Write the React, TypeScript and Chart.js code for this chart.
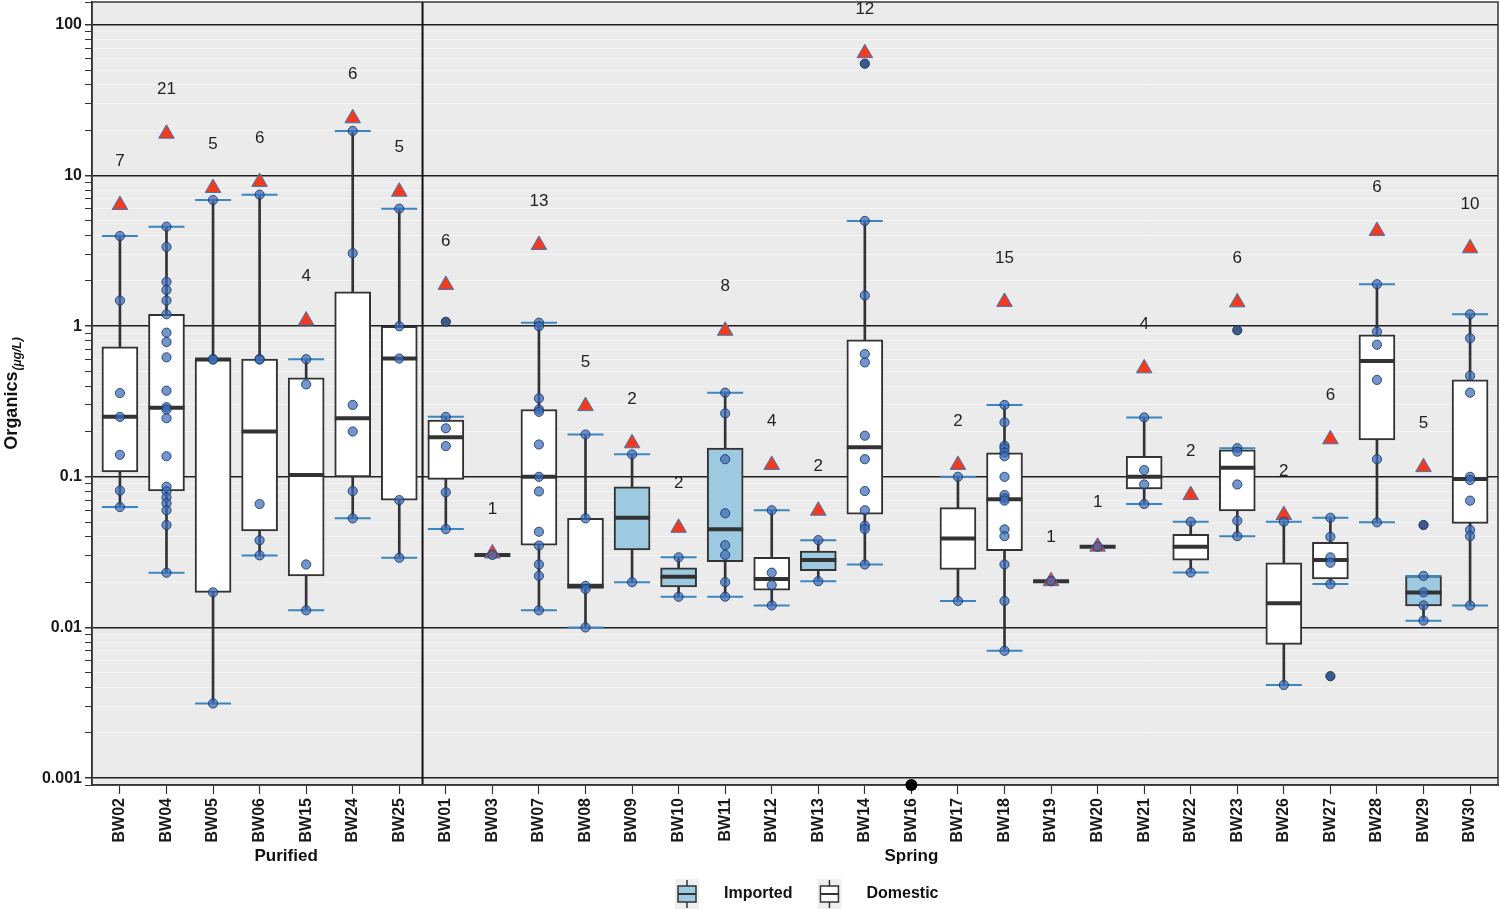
import React, { useEffect, useRef } from 'react';
import { Chart, registerables } from 'chart.js';

Chart.register(...registerables);

const FONT = '"Liberation Sans", Arial, Helvetica, sans-serif';

// ---------- data ----------
const categories = ['BW02', 'BW04', 'BW05', 'BW06', 'BW15', 'BW24', 'BW25', 'BW01', 'BW03', 'BW07', 'BW08', 'BW09', 'BW10', 'BW11', 'BW12', 'BW13', 'BW14', 'BW16', 'BW17', 'BW18', 'BW19', 'BW20', 'BW21', 'BW22', 'BW23', 'BW26', 'BW27', 'BW28', 'BW29', 'BW30'];

const waterSource = ['Domestic', 'Domestic', 'Domestic', 'Domestic', 'Domestic', 'Domestic', 'Domestic', 'Domestic', 'Domestic', 'Domestic', 'Domestic', 'Imported', 'Imported', 'Imported', 'Domestic', 'Imported', 'Domestic', null, 'Domestic', 'Domestic', 'Domestic', 'Domestic', 'Domestic', 'Domestic', 'Domestic', 'Domestic', 'Domestic', 'Domestic', 'Imported', 'Domestic'];

const whiskerLow = [0.063, 0.0231, 0.00313, 0.0301, 0.013, 0.053, 0.029, 0.045, null, 0.013, 0.01, 0.02, 0.016, 0.016, 0.014, 0.0203, 0.0262, null, 0.015, 0.007, null, null, 0.066, 0.0232, 0.0404, 0.00415, 0.0194, 0.0499, 0.0111, 0.014];
const q1 = [0.108, 0.0805, 0.0171, 0.0437, 0.022, 0.1, 0.0701, 0.0962, null, 0.0352, 0.0182, 0.0327, 0.0186, 0.0273, 0.0177, 0.0238, 0.0566, null, 0.0243, 0.0323, null, null, 0.083, 0.028, 0.0593, 0.00773, 0.021, 0.1755, 0.0139, 0.0491];
const median = [0.251, 0.288, 0.6, 0.2, 0.103, 0.245, 0.61, 0.183, 0.0303, 0.1, 0.0189, 0.0535, 0.0217, 0.0448, 0.021, 0.028, 0.157, null, 0.039, 0.071, 0.0203, 0.0344, 0.1, 0.0344, 0.115, 0.0145, 0.028, 0.587, 0.0171, 0.0967];
const q3 = [0.731, 1.2, 0.61, 0.606, 0.455, 1.69, 1.0, 0.238, null, 0.28, 0.053, 0.086, 0.0249, 0.155, 0.0292, 0.0322, 0.813, null, 0.0624, 0.1445, null, null, 0.137, 0.0415, 0.151, 0.0269, 0.0367, 0.875, 0.022, 0.44];
const whiskerHigh = [3.97, 4.58, 6.88, 7.47, 0.604, 19.8, 6.03, 0.251, null, 1.055, 0.191, 0.141, 0.0292, 0.362, 0.06, 0.038, 5.0, null, 0.1, 0.3, null, null, 0.248, 0.0503, 0.155, 0.0503, 0.0535, 1.9, 0.022, 1.2];

const triangleValues = [6.38, 18.97, 8.27, 9.07, 1.09, 24.0, 7.82, 1.88, 0.031, 3.46, 0.295, 0.167, 0.0459, 0.933, 0.12, 0.0596, 64.9, null, 0.12, 1.45, 0.0203, 0.0344, 0.525, 0.0757, 1.44, 0.0558, 0.1775, 4.29, 0.116, 3.29];
const sampleCounts = [7, 21, 5, 6, 4, 6, 5, 6, 1, 13, 5, 2, 2, 8, 4, 2, 12, null, 2, 15, 1, 1, 4, 2, 6, 2, 6, 6, 5, 10];

const sampleValues: number[][] = [
  [3.97, 1.48, 0.36, 0.25, 0.14, 0.081, 0.063],
  [4.58, 3.36, 1.97, 1.74, 1.48, 1.2, 0.906, 0.785, 0.621, 0.373, 0.29, 0.28, 0.245, 0.137, 0.086, 0.08, 0.073, 0.0667, 0.06, 0.0479, 0.0231],
  [6.88, 0.606, 0.6, 0.0171, 0.00313],
  [7.47, 0.606, 0.6, 0.066, 0.0379, 0.0301],
  [0.604, 0.411, 0.0262, 0.013],
  [19.8, 3.05, 0.3, 0.2, 0.0805, 0.053],
  [6.03, 1.0, 0.61, 0.0701, 0.029],
  [0.25, 0.21, 0.16, 0.079, 0.045],
  [0.0303],
  [1.055, 1.0, 0.332, 0.28, 0.27, 0.164, 0.1, 0.08, 0.0432, 0.035, 0.0262, 0.022, 0.013],
  [0.191, 0.053, 0.0189, 0.018, 0.01],
  [0.141, 0.02],
  [0.0292, 0.016],
  [0.362, 0.264, 0.131, 0.0573, 0.0352, 0.0303, 0.02, 0.016],
  [0.06, 0.0231, 0.0191, 0.014],
  [0.038, 0.0203],
  [5.0, 1.6, 0.653, 0.575, 0.1875, 0.131, 0.0805, 0.06, 0.0474, 0.045, 0.0262],
  [],
  [0.1, 0.015],
  [0.3, 0.23, 0.161, 0.155, 0.145, 0.137, 0.1, 0.0757, 0.072, 0.0695, 0.0448, 0.0404, 0.0262, 0.015, 0.007],
  [0.0203],
  [0.0344],
  [0.248, 0.111, 0.089, 0.066],
  [0.0503, 0.0232],
  [0.155, 0.147, 0.089, 0.0511, 0.0404],
  [0.0503, 0.00415],
  [0.0535, 0.04, 0.0292, 0.0269, 0.0194],
  [1.9, 0.92, 0.754, 0.44, 0.131, 0.0499],
  [0.022, 0.0171, 0.014, 0.0111],
  [1.2, 0.832, 0.469, 0.362, 0.1, 0.0953, 0.0695, 0.0444, 0.0404, 0.014],
];

const outlierSites = ['BW01', 'BW14', 'BW23', 'BW27', 'BW29'];
const outlierValues = [1.07, 55.3, 0.94, 0.00475, 0.0479];

const belowRangeSites = ['BW16'];
const belowRangeValues = [0.0009];

const yTickLabels = ['0.001', '0.01', '0.1', '1', '10', '100'];
const groupNames = ['Purified', 'Spring'];
const groupSizes = [7, 23];
const groupLabelAt = [3.57, 17];
const legendLabels = ['Imported', 'Domestic'];

// ---------- styles ----------
const Y_MIN = 0.0009;
const Y_MAX = 142;
const PANEL_BG = '#ebebeb';
const BOX_LINE = '#333333';
const IMPORTED_FILL = '#9ecae1';
const DOMESTIC_FILL = '#ffffff';
const CAP_COLOR = '#3a86bf';
const POINT_FILL = 'rgba(58,108,185,0.72)';
const POINT_BORDER = 'rgba(25,55,100,0.85)';
const OUTLIER_FILL = '#3b5b8c';
const TRI_FILL = '#f23b1e';
const TRI_BORDER = '#3c78b5';

function drawKey(ctx: CanvasRenderingContext2D, cx: number, cy: number, fill: string) {
  ctx.save();
  ctx.fillStyle = '#eeeeee';
  ctx.fillRect(cx - 12, cy - 15, 24, 30);
  ctx.strokeStyle = BOX_LINE;
  ctx.lineWidth = 1.5;
  ctx.beginPath();
  ctx.moveTo(cx, cy - 14);
  ctx.lineTo(cx, cy + 14);
  ctx.stroke();
  ctx.fillStyle = fill;
  ctx.fillRect(cx - 9, cy - 8, 18, 16);
  ctx.strokeRect(cx - 9, cy - 8, 18, 16);
  ctx.lineWidth = 2;
  ctx.beginPath();
  ctx.moveTo(cx - 9, cy);
  ctx.lineTo(cx + 9, cy);
  ctx.stroke();
  ctx.restore();
}

const decorPlugin = {
  id: 'decor',
  beforeDraw(chart: any) {
    const { ctx, chartArea: a } = chart;
    ctx.save();
    ctx.fillStyle = PANEL_BG;
    ctx.fillRect(a.left, a.top, a.right - a.left, a.bottom - a.top);
    ctx.restore();
  },
  beforeDatasetsDraw(chart: any) {
    const { ctx, chartArea: a, scales } = chart;
    const x = scales.x;
    ctx.save();
    ctx.strokeStyle = '#111';
    ctx.lineWidth = 2;
    const sx = x.getPixelForValue(groupSizes[0] - 0.5);
    ctx.beginPath();
    ctx.moveTo(sx, a.top);
    ctx.lineTo(sx, a.bottom);
    ctx.stroke();
    ctx.strokeStyle = '#333';
    ctx.lineWidth = 1.5;
    ctx.strokeRect(a.left, a.top, a.right - a.left, a.bottom - a.top);
    ctx.restore();
  },
  afterDatasetsDraw(chart: any) {
    const { ctx, scales } = chart;
    const x = scales.x;
    const y = scales.y;
    ctx.save();
    ctx.fillStyle = '#222';
    ctx.font = `17px ${FONT}`;
    ctx.textAlign = 'center';
    ctx.textBaseline = 'middle';
    sampleCounts.forEach((c, i) => {
      const t = triangleValues[i];
      if (c == null || t == null) return;
      ctx.fillText(String(c), x.getPixelForValue(i), y.getPixelForValue(t) - 44);
    });
    ctx.restore();
  },
  afterDraw(chart: any) {
    const { ctx, chartArea: a, scales } = chart;
    const x = scales.x;
    ctx.save();
    // group labels
    ctx.fillStyle = '#111';
    ctx.font = `bold 17px ${FONT}`;
    ctx.textAlign = 'center';
    ctx.textBaseline = 'middle';
    groupNames.forEach((g, i) => {
      ctx.fillText(g, x.getPixelForValue(groupLabelAt[i]), 856);
    });
    // y title with subscript
    const main = 'Organics';
    const sub = '(μg/L)';
    ctx.font = `bold 18px ${FONT}`;
    const w1 = ctx.measureText(main).width;
    ctx.font = `italic bold 12px ${FONT}`;
    const w2 = ctx.measureText(sub).width;
    const total = w1 + 1 + w2;
    const cy = (a.top + a.bottom) / 2;
    ctx.translate(17, cy + total / 2);
    ctx.rotate(-Math.PI / 2);
    ctx.textAlign = 'left';
    ctx.textBaseline = 'alphabetic';
    ctx.font = `bold 18px ${FONT}`;
    ctx.fillText(main, 0, 0);
    ctx.font = `italic bold 12px ${FONT}`;
    ctx.fillText(sub, w1 + 1, 4);
    ctx.restore();

    // legend
    ctx.save();
    const ly = 894;
    let lx = 675;
    const fills = [IMPORTED_FILL, DOMESTIC_FILL];
    ctx.font = `bold 16px ${FONT}`;
    ctx.fillStyle = '#111';
    ctx.textAlign = 'left';
    ctx.textBaseline = 'middle';
    legendLabels.forEach((lab, i) => {
      drawKey(ctx, lx + 12, ly, fills[i]);
      ctx.fillStyle = '#111';
      ctx.fillText(lab, lx + 49, ly);
      lx += 49 + ctx.measureText(lab).width + 25;
    });
    ctx.restore();
  },
};

export default function App() {
  const ref = useRef<HTMLCanvasElement>(null);

  useEffect(() => {
    document.body.style.margin = '0';
    const canvas = ref.current;
    if (!canvas) return;

    const idx = (site: string) => categories.indexOf(site);
    const boxFor = (kind: string) =>
      categories
        .map((_, i) => (waterSource[i] === kind && q1[i] != null && q3[i] != null ? { x: i, y: [q1[i], q3[i]] } : null))
        .filter(Boolean);
    const whiskers = categories
      .map((_, i) => (whiskerLow[i] != null && whiskerHigh[i] != null ? { x: i, y: [whiskerLow[i], whiskerHigh[i]] } : null))
      .filter(Boolean);
    const medians = categories
      .map((_, i) => (median[i] != null ? { x: i, y: median[i] } : null))
      .filter(Boolean);
    const caps: any[] = [];
    categories.forEach((_, i) => {
      if (whiskerLow[i] != null) caps.push({ x: i, y: whiskerLow[i] });
      if (whiskerHigh[i] != null) caps.push({ x: i, y: whiskerHigh[i] });
    });
    const triangles = categories
      .map((_, i) => (triangleValues[i] != null ? { x: i, y: triangleValues[i] } : null))
      .filter(Boolean);
    const points: any[] = [];
    sampleValues.forEach((arr, i) => arr.forEach((v) => points.push({ x: i, y: v })));
    const outliers = outlierSites.map((s, k) => ({ x: idx(s), y: outlierValues[k] }));
    const below = belowRangeSites.map((s, k) => ({ x: idx(s), y: belowRangeValues[k] }));

    const barCommon = { type: 'bar' as const, grouped: false, borderSkipped: false as any };

    const chart = new Chart(canvas, {
      type: 'bar',
      data: {
        datasets: [
          { ...barCommon, label: 'whisker', data: whiskers as any, barThickness: 2, backgroundColor: BOX_LINE, borderWidth: 0, order: 10 },
          { ...barCommon, label: legendLabels[0], data: boxFor('Imported') as any, barThickness: 36, backgroundColor: IMPORTED_FILL, borderColor: BOX_LINE, borderWidth: 2, order: 9 },
          { ...barCommon, label: legendLabels[1], data: boxFor('Domestic') as any, barThickness: 36, backgroundColor: DOMESTIC_FILL, borderColor: BOX_LINE, borderWidth: 2, order: 9 },
          { type: 'line', label: 'median', data: medians as any, showLine: false, pointStyle: 'line', pointRadius: 18, pointBorderWidth: 4, pointBorderColor: BOX_LINE, borderColor: BOX_LINE, order: 8 },
          { type: 'line', label: 'caps', data: caps, showLine: false, pointStyle: 'line', pointRadius: 18, pointBorderWidth: 2, pointBorderColor: CAP_COLOR, borderColor: CAP_COLOR, order: 7 },
          { type: 'line', label: 'triangles', data: triangles as any, showLine: false, pointStyle: 'triangle', pointRadius: 9, pointBackgroundColor: TRI_FILL, pointBorderColor: TRI_BORDER, pointBorderWidth: 1, order: 6 },
          { type: 'line', label: 'samples', data: points, showLine: false, pointStyle: 'circle', pointRadius: 4.6, pointBackgroundColor: POINT_FILL, pointBorderColor: POINT_BORDER, pointBorderWidth: 1, order: 5 },
          { type: 'line', label: 'outliers', data: outliers, showLine: false, pointStyle: 'circle', pointRadius: 4.6, pointBackgroundColor: OUTLIER_FILL, pointBorderColor: '#1f3557', pointBorderWidth: 1, order: 4 },
          { type: 'line', label: 'below', data: below, showLine: false, pointStyle: 'circle', pointRadius: 6, pointBackgroundColor: '#000', pointBorderColor: '#000', pointBorderWidth: 0, clip: false as any, order: 3 },
        ] as any,
      },
      options: {
        responsive: false,
        animation: false,
        events: [],
        layout: { autoPadding: false, padding: { left: 0, top: 2, right: 2, bottom: 0 } },
        plugins: { legend: { display: false }, tooltip: { enabled: false } },
        scales: {
          x: {
            type: 'linear',
            offset: false,
            min: -0.6,
            max: categories.length - 1 + 0.6,
            afterBuildTicks: (scale: any) => {
              scale.ticks = categories.map((_, i) => ({ value: i }));
            },
            afterFit: (scale: any) => {
              scale.height = 124;
              scale.paddingLeft = 0;
              scale.paddingRight = 0;
              scale.paddingTop = 0;
              scale.paddingBottom = 0;
            },
            grid: { display: true, offset: false, drawOnChartArea: false, drawTicks: true, tickLength: 9, color: '#333', tickColor: '#333', tickWidth: 1.2 } as any,
            border: { display: true, color: '#333', width: 1.5 },
            ticks: {
              autoSkip: false,
              maxRotation: 90,
              minRotation: 90,
              padding: 4,
              color: '#1a1a1a',
              font: { family: FONT, size: 16, weight: 'bold' },
              callback: (v: any) => categories[Math.round(Number(v))] ?? '',
            },
          },
          y: {
            type: 'logarithmic',
            min: Y_MIN,
            max: Y_MAX,
            afterBuildTicks: (scale: any) => {
              const t: any[] = [{ value: Y_MIN, major: false }];
              for (let e = -3; e <= 2; e++) {
                for (let m = 1; m <= 9; m++) {
                  const v = Number((m * Math.pow(10, e)).toPrecision(6));
                  if (v > Y_MIN && v < Y_MAX) t.push({ value: v, major: m === 1 });
                }
              }
              t.push({ value: Y_MAX, major: false });
              scale.ticks = t;
            },
            afterFit: (scale: any) => {
              scale.width = 92;
              scale.paddingTop = 0;
              scale.paddingBottom = 0;
              scale.paddingLeft = 0;
              scale.paddingRight = 0;
            },
            grid: {
              color: (c: any) => (c.tick && c.tick.major ? '#1f1f1f' : '#f4f4f4'),
              lineWidth: (c: any) => (c.tick && c.tick.major ? 1.5 : 1),
              tickColor: '#333',
              tickLength: 7,
              drawTicks: true,
            } as any,
            border: { display: true, color: '#333', width: 1.5 },
            ticks: {
              autoSkip: false,
              padding: 3,
              color: '#1a1a1a',
              font: { family: FONT, size: 16, weight: 'bold' },
              callback: (v: any, i: number, ticks: any[]) => {
                if (!ticks[i] || !ticks[i].major) return '';
                const k = Math.round(Math.log10(Number(v))) + 3;
                return yTickLabels[k] ?? '';
              },
            },
          },
        },
      } as any,
      plugins: [decorPlugin as any],
    });

    return () => chart.destroy();
  }, []);

  return <canvas ref={ref} width={1500} height={909} style={{ display: 'block' }} />;
}
